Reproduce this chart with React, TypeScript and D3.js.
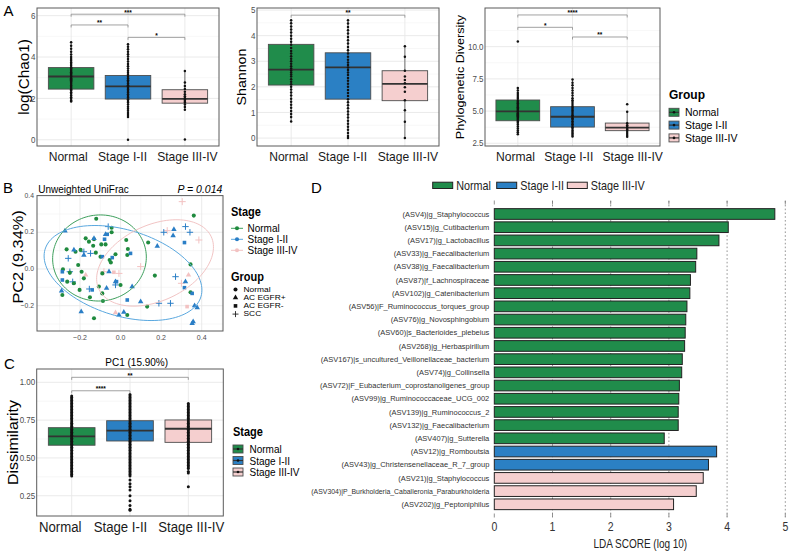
import React, { useEffect, useRef } from 'react';
import * as d3 from 'd3';

const STAGES = ['Normal', 'Stage I-II', 'Stage III-IV'];
const GROUPS = ['Normal', 'AC EGFR+', 'AC EGFR-', 'SCC'];
const BOX_FILL = ['#208c4b', '#2b80c4', '#f5cfcf'];
const PT_FILL = ['#1f8a3e', '#2a7ec6', '#f3c2c2'];
const ELL_STROKE = ['#3d9f5c', '#5aa8df', '#f2c4c4'];

// ---------------- Panel A ----------------
// box stats per stage: [lower whisker, Q1, median, Q3, upper whisker]
const chao1Box = [
  [1.85, 2.45, 3.06, 3.49, 4.7],
  [1.1, 1.97, 2.58, 3.11, 4.62],
  [1.45, 1.77, 1.98, 2.42, 3.32],
];
const chao1Pts = [
  [4.72, 4.55, 4.4, 4.25, 4.12, 4.0, 3.9, 3.82, 3.74, 3.66, 3.58, 3.5, 3.44, 3.38, 3.32, 3.26, 3.2, 3.14, 3.08, 3.03, 2.98, 2.93, 2.88, 2.82, 2.76, 2.7, 2.63, 2.56, 2.5, 2.44, 2.38, 2.3, 2.22, 2.14, 2.06, 1.98, 1.9, 1.85],
  [4.62, 4.5, 4.38, 4.26, 4.14, 4.02, 3.9, 3.78, 3.66, 3.55, 3.44, 3.34, 3.24, 3.14, 3.05, 2.96, 2.88, 2.8, 2.72, 2.64, 2.57, 2.5, 2.43, 2.36, 2.28, 2.2, 2.12, 2.04, 1.96, 1.88, 1.8, 1.7, 1.6, 1.5, 1.4, 1.3, 1.2, 1.1, 0.0],
  [3.32, 2.77, 2.6, 2.45, 2.32, 2.2, 2.1, 2.02, 1.95, 1.88, 1.8, 1.7, 1.58, 1.45, 0.02],
];
const chao1Ticks = [0, 2, 4, 6];
const chao1Minor = [1, 3, 5];
const chao1Sig = [
  { a: 0, b: 2, y: 6.07, label: '***' },
  { a: 0, b: 1, y: 5.55, label: '**' },
  { a: 1, b: 2, y: 4.95, label: '*' },
];

const shannonBox = [
  [0.65, 2.07, 2.67, 3.66, 4.6],
  [0.0, 1.52, 2.76, 3.33, 4.6],
  [0.0, 1.46, 2.12, 2.63, 3.59],
];
const shannonPts = [
  [4.6, 4.48, 4.36, 4.24, 4.12, 4.0, 3.88, 3.76, 3.64, 3.52, 3.4, 3.3, 3.2, 3.1, 3.0, 2.9, 2.8, 2.72, 2.64, 2.56, 2.48, 2.4, 2.3, 2.2, 2.1, 2.0, 1.9, 1.78, 1.66, 1.54, 1.42, 1.3, 1.18, 1.06, 0.94, 0.82, 0.65],
  [4.6, 4.47, 4.34, 4.21, 4.08, 3.95, 3.82, 3.69, 3.56, 3.43, 3.3, 3.18, 3.06, 2.95, 2.85, 2.76, 2.66, 2.56, 2.46, 2.35, 2.24, 2.12, 2.0, 1.88, 1.76, 1.64, 1.52, 1.4, 1.28, 1.16, 1.04, 0.92, 0.8, 0.68, 0.56, 0.44, 0.32, 0.2, 0.08, 0.0],
  [3.59, 3.18, 2.63, 2.4, 2.27, 2.14, 1.98, 1.81, 1.48, 1.09, 0.64, 0.0],
];
const shannonTicks = [0, 1, 2, 3, 4, 5];
const shannonMinor = [0.5, 1.5, 2.5, 3.5, 4.5];
const shannonSig = [{ a: 0, b: 2, y: 4.8, label: '**' }];

const pdBox = [
  [3.2, 4.25, 4.98, 5.86, 6.8],
  [3.02, 3.76, 4.56, 5.34, 7.45],
  [3.0, 3.48, 3.71, 4.07, 4.95],
];
const pdPts = [
  [10.4, 6.8, 6.6, 6.4, 6.25, 6.1, 5.95, 5.8, 5.7, 5.6, 5.5, 5.4, 5.3, 5.2, 5.1, 5.0, 4.92, 4.84, 4.76, 4.68, 4.6, 4.5, 4.4, 4.3, 4.2, 4.1, 3.95, 3.8, 3.65, 3.5, 3.35, 3.2],
  [7.45, 7.2, 7.0, 6.8, 6.6, 6.4, 6.2, 6.0, 5.85, 5.7, 5.55, 5.4, 5.28, 5.16, 5.04, 4.92, 4.8, 4.68, 4.56, 4.45, 4.34, 4.22, 4.1, 3.98, 3.86, 3.74, 3.62, 3.5, 3.38, 3.26, 3.14, 3.02],
  [5.53, 4.95, 4.05, 3.9, 3.78, 3.68, 3.58, 3.45, 3.3, 3.15, 3.0],
];
const pdTicks = [2.5, 5.0, 7.5, 10.0];
const pdMinor = [3.75, 6.25, 8.75, 11.25];
const pdSig = [
  { a: 0, b: 2, y: 12.46, label: '****' },
  { a: 0, b: 1, y: 11.5, label: '*' },
  { a: 1, b: 2, y: 10.75, label: '**' },
];

// ---------------- Panel B (PCoA) ----------------
// [PC1, PC2]
const bNormalCircle = [
  [-0.12, 0.274], [-0.044, 0.225], [-0.044, 0.2], [-0.172, 0.167], [-0.131, 0.162], [-0.156, 0.149],
  [-0.135, 0.127], [-0.095, 0.134], [-0.074, 0.134], [-0.266, 0.107], [-0.222, 0.094], [-0.197, 0.104],
  [-0.122, 0.089], [-0.099, 0.067], [-0.054, 0.049], [-0.048, 0.035], [-0.025, 0.08], [0.028, 0.158],
  [0.036, 0.109], [0.033, 0.076], [0.136, 0.144], [-0.284, -0.002], [-0.25, -0.02], [-0.209, 0.022],
  [-0.192, -0.015], [-0.263, -0.069], [-0.23, -0.078], [-0.202, -0.114], [-0.181, -0.051], [-0.107, -0.096],
  [-0.09, -0.133], [-0.151, -0.154], [-0.087, -0.174], [0.0, -0.087], [0.169, -0.036], [-0.287, -0.142],
  [-0.131, -0.269], [0.033, -0.251], [0.131, -0.205], [0.345, 0.025], [0.361, 0.291], [-0.09, -0.024],
  [0.345, -0.127],
];
const bStage12Triangle = [
  [-0.274, 0.207], [-0.23, 0.104], [-0.291, -0.12], [-0.181, 0.076], [-0.131, 0.167], [-0.074, 0.189],
  [-0.057, -0.015], [-0.025, -0.069], [0.057, -0.096], [0.099, -0.178], [0.181, 0.125], [0.263, 0.216],
  [0.259, 0.182], [0.32, -0.069], [0.365, -0.2], [0.378, -0.211], [0.358, -0.287], [0.353, -0.296],
  [-0.008, -0.251], [0.016, -0.236], [-0.194, -0.233], [-0.069, -0.105],
];
const bStage12Square = [
  [-0.066, 0.189], [-0.079, 0.162], [-0.09, 0.067], [-0.041, 0.062], [0.049, 0.085], [0.033, -0.169],
  [-0.287, -0.015], [-0.287, -0.06], [-0.02, -0.069], [0.315, 0.144], [0.315, -0.102], [0.353, -0.133],
  [-0.14, -0.114],
];
const bStage12Plus = [
  [-0.258, 0.058], [-0.181, 0.094], [-0.148, 0.085], [-0.061, 0.231], [-0.25, -0.015], [-0.236, -0.07],
  [-0.154, -0.109], [-0.025, -0.087], [0.189, -0.187], [0.213, 0.2], [0.271, -0.042], [0.32, 0.231],
  [0.342, 0.2], [0.246, -0.187],
];
const bStage34Plus = [
  [0.304, 0.367], [0.23, 0.209], [0.386, 0.158], [-0.082, -0.015], [-0.008, -0.024], [0.3, -0.078],
  [0.099, 0.013],
];
const bStage34Triangle = [[-0.172, -0.033], [-0.025, -0.238], [0.335, -0.033]];
const bStage34Square = [[-0.033, -0.018], [0.328, -0.205]];
// 95% ellipses: centre and two conjugate semi-axes (data units)
const ellCenter = [[-0.104, 0.06], [0.012, -0.022], [0.17, 0.033]];
const ellU = [[0.229, 0.035], [0.384, -0.13], [0.277, 0.143]];
const ellV = [[0.03, -0.232], [-0.062, -0.224], [0.079, -0.187]];
const bXTicks = [-0.2, 0.0, 0.2, 0.4];
const bYTicks = [-0.2, 0.0, 0.2, 0.4];
const bXMinor = [-0.3, -0.1, 0.1, 0.3, 0.5];
const bYMinor = [-0.3, -0.1, 0.1, 0.3];

// ---------------- Panel C ----------------
const cBox = [
  [0.38, 0.584, 0.643, 0.7, 0.91],
  [0.38, 0.612, 0.68, 0.746, 0.92],
  [0.43, 0.603, 0.693, 0.751, 0.86],
];
const cPts = [
  [0.91, 0.9, 0.89, 0.88, 0.87, 0.86, 0.85, 0.84, 0.83, 0.82, 0.81, 0.8, 0.79, 0.78, 0.77, 0.76, 0.75, 0.74, 0.73, 0.72, 0.71, 0.7, 0.69, 0.68, 0.67, 0.66, 0.65, 0.64, 0.63, 0.62, 0.61, 0.6, 0.59, 0.58, 0.57, 0.56, 0.55, 0.54, 0.53, 0.52, 0.51, 0.5, 0.49, 0.48, 0.47, 0.46, 0.45, 0.44, 0.43, 0.42, 0.41, 0.4, 0.39, 0.38],
  [0.92, 0.91, 0.9, 0.89, 0.88, 0.87, 0.86, 0.85, 0.84, 0.83, 0.82, 0.81, 0.8, 0.79, 0.78, 0.77, 0.76, 0.75, 0.74, 0.73, 0.72, 0.71, 0.7, 0.69, 0.68, 0.67, 0.66, 0.65, 0.64, 0.63, 0.62, 0.61, 0.6, 0.59, 0.58, 0.57, 0.56, 0.55, 0.54, 0.53, 0.52, 0.51, 0.5, 0.49, 0.48, 0.47, 0.46, 0.45, 0.44, 0.43, 0.42, 0.41, 0.4, 0.39, 0.38, 0.354, 0.33, 0.31, 0.288, 0.25, 0.217, 0.186, 0.16, 0.154],
  [0.86, 0.85, 0.84, 0.83, 0.82, 0.81, 0.8, 0.79, 0.78, 0.77, 0.76, 0.75, 0.74, 0.73, 0.72, 0.71, 0.7, 0.69, 0.68, 0.67, 0.66, 0.65, 0.64, 0.63, 0.62, 0.61, 0.6, 0.59, 0.58, 0.57, 0.56, 0.55, 0.54, 0.53, 0.52, 0.51, 0.5, 0.49, 0.48, 0.47, 0.46, 0.45, 0.44, 0.43, 0.41, 0.4, 0.31],
];
const cTicks = [0.25, 0.5, 0.75, 1.0];
const cMinor = [0.375, 0.625, 0.875];
const cSig = [
  { a: 0, b: 2, y: 1.033, label: '**' },
  { a: 0, b: 1, y: 0.944, label: '****' },
];

// ---------------- Panel D (LEfSe) ----------------
const ldaTaxa = [
  '(ASV4)|g_Staphylococcus', '(ASV15)|g_Cutibacterium', '(ASV17)|g_Lactobacillus', '(ASV33)|g_Faecalibacterium',
  '(ASV38)|g_Faecalibacterium', '(ASV87)|f_Lachnospiraceae', '(ASV102)|g_Catenibacterium',
  '(ASV56)|F_Ruminococcus_torques_group', '(ASV76)|g_Novosphingobium', '(ASV60)|s_Bacterioides_plebeius',
  '(ASV268)|g_Herbaspirillum', '(ASV167)|s_uncultured_Veillonellaceae_bacterium', '(ASV74)|g_Collinsella',
  '(ASV72)|F_Eubacterium_coprostanoligenes_group', '(ASV99)|g_Ruminococcaceae_UCG_002', '(ASV139)|g_Ruminococcus_2',
  '(ASV132)|g_Faecalibacterium', '(ASV407)|g_Sutterella', '(ASV12)|g_Romboutsia', '(ASV43)|g_Christensenellaceae_R_7_group',
  '(ASV21)|g_Staphylococcus', '(ASV304)|P_Burkholderia_Caballeronia_Paraburkholderia', '(ASV202)|g_Peptoniphilus',
];
const ldaScore = [4.82, 4.02, 3.86, 3.48, 3.46, 3.37, 3.36, 3.31, 3.29, 3.28, 3.27, 3.23, 3.22, 3.18, 3.17, 3.16, 3.16, 2.92, 3.82, 3.68, 3.59, 3.47, 3.08];
const ldaStage = [0, 0, 0, 0, 0, 0, 0, 0, 0, 0, 0, 0, 0, 0, 0, 0, 0, 0, 1, 1, 2, 2, 2];
const ldaTicks = [0, 1, 2, 3, 4, 5];

const FONT = "'Liberation Sans', Arial, Helvetica, sans-serif";

function txt(g: any, x: number, y: number, s: string, o: any = {}) {
  const sx = o.sx ?? 1;
  const sy = o.sy ?? 1.1;
  return g
    .append('text')
    .attr('transform', `translate(${x},${y}) scale(${sx},${sy})${o.rot ? ` rotate(${o.rot})` : ''}`)
    .attr('text-anchor', o.anchor ?? 'start')
    .attr('dominant-baseline', o.baseline ?? 'central')
    .attr('font-family', FONT)
    .attr('font-size', o.size ?? 10)
    .attr('font-weight', o.weight ?? 'normal')
    .attr('font-style', o.italic ? 'italic' : 'normal')
    .attr('fill', o.fill ?? '#000')
    .text(s);
}

function ln(g: any, x1: number, y1: number, x2: number, y2: number, stroke: string, w: number, dash?: string) {
  const l = g.append('line').attr('x1', x1).attr('y1', y1).attr('x2', x2).attr('y2', y2)
    .attr('stroke', stroke).attr('stroke-width', w);
  if (dash) l.attr('stroke-dasharray', dash);
  return l;
}

function boxPanel(svg: any, p: any) {
  const g = svg.append('g');
  const x = d3.scalePoint<string>().domain(STAGES).range([p.left, p.right]).padding(0.6);
  const y = d3.scaleLinear().domain(p.domain).range([p.bottom, p.top]);
  g.append('rect').attr('x', p.left).attr('y', p.top).attr('width', p.right - p.left)
    .attr('height', p.bottom - p.top).attr('fill', '#fff');
  p.minor.forEach((v: number) => ln(g, p.left, y(v), p.right, y(v), '#f2f2f2', 0.6));
  p.ticks.forEach((v: number) => ln(g, p.left, y(v), p.right, y(v), '#e8e8e8', 0.9));
  STAGES.forEach((s) => ln(g, x(s)!, p.top, x(s)!, p.bottom, '#e8e8e8', 0.9));
  const bw = x.step() * 0.8;
  p.boxes.forEach((b: number[], i: number) => {
    const cx = x(STAGES[i])!;
    ln(g, cx, y(b[0]), cx, y(b[1]), '#4d4d4d', 0.8);
    ln(g, cx, y(b[3]), cx, y(b[4]), '#4d4d4d', 0.8);
    g.append('rect').attr('x', cx - bw / 2).attr('y', y(b[3])).attr('width', bw)
      .attr('height', y(b[1]) - y(b[3])).attr('fill', BOX_FILL[i]).attr('stroke', '#4d4d4d').attr('stroke-width', 0.9);
    ln(g, cx - bw / 2, y(b[2]), cx + bw / 2, y(b[2]), '#333', 1.8);
  });
  p.pts.forEach((arr: number[], i: number) => {
    arr.forEach((v) => {
      g.append('circle').attr('cx', x(STAGES[i])).attr('cy', y(v)).attr('r', p.ptR ?? 1.25).attr('fill', '#111');
    });
  });
  g.append('rect').attr('x', p.left).attr('y', p.top).attr('width', p.right - p.left)
    .attr('height', p.bottom - p.top).attr('fill', 'none').attr('stroke', '#5a5a5a').attr('stroke-width', 1);
  p.ticks.forEach((v: number) => {
    txt(g, p.left - 1.5, y(v), p.fmt(v), { size: p.tickSize, anchor: 'end', fill: '#4d4d4d' });
  });
  STAGES.forEach((s, i) =>
    txt(g, x(s)! + p.xLabelShift[i], p.xLabelY, s, { size: p.xLabelSize, anchor: 'middle', fill: '#1a1a1a' }),
  );
  txt(g, p.yTitleX, (p.top + p.bottom) / 2, p.yTitle, { size: p.yTitleSize, anchor: 'middle', rot: -90 });
  p.sig.forEach((s: any) => {
    const x1 = x(STAGES[s.a])!;
    const x2 = x(STAGES[s.b])!;
    const yy = y(s.y);
    g.append('path').attr('d', `M${x1},${yy + 2.5}V${yy}H${x2}V${yy + 2.5}`)
      .attr('fill', 'none').attr('stroke', '#8a8a8a').attr('stroke-width', 0.8);
    txt(g, (x1 + x2) / 2, yy + 0.3, s.label, { size: 6.5, anchor: 'middle', weight: 'bold', baseline: 'alphabetic', sy: 1 });
  });
  return { x, y };
}

function boxKey(g: any, cx: number, cy: number, i: number) {
  g.append('rect').attr('x', cx - 5).attr('y', cy - 4).attr('width', 10).attr('height', 8)
    .attr('fill', BOX_FILL[i]).attr('stroke', '#4d4d4d').attr('stroke-width', 0.9);
  ln(g, cx - 5, cy, cx + 5, cy, '#333', 1.2);
  g.append('circle').attr('cx', cx).attr('cy', cy).attr('r', 1.3).attr('fill', '#111');
}

function plusPath(s: number) {
  return `M${-s},0H${s}M0,${-s}V${s}`;
}

function draw(svg: any) {
  // panel letters
  txt(svg, 3.5, 10, 'A', { size: 15, sy: 1 });
  txt(svg, 3, 187, 'B', { size: 15, sy: 1 });
  txt(svg, 4, 363, 'C', { size: 15, sy: 1 });
  txt(svg, 311, 187, 'D', { size: 15, sy: 1 });

  // ---------- A ----------
  const common = { top: 8, bottom: 146, xLabelY: 156.7, xLabelSize: 12.1, tickSize: 8 };
  boxPanel(svg, {
    ...common, left: 37, right: 219, domain: [-0.3, 6.37], ticks: chao1Ticks, minor: chao1Minor,
    fmt: (v: number) => d3.format('d')(v), boxes: chao1Box, pts: chao1Pts, sig: chao1Sig,
    yTitle: 'log(Chao1)', yTitleX: 24, yTitleSize: 13.9, xLabelShift: [-3, -5.5, 2.5],
  });
  boxPanel(svg, {
    ...common, left: 257, right: 439, domain: [-0.31, 5.08], ticks: shannonTicks, minor: shannonMinor,
    fmt: (v: number) => d3.format('d')(v), boxes: shannonBox, pts: shannonPts, sig: shannonSig,
    yTitle: 'Shannon', yTitleX: 242, yTitleSize: 12.9, xLabelShift: [-2.5, -5.5, 3],
  });
  boxPanel(svg, {
    ...common, left: 485, right: 660, domain: [2.29, 13.0], ticks: pdTicks, minor: pdMinor,
    fmt: (v: number) => d3.format('.1f')(v), boxes: pdBox, pts: pdPts, sig: pdSig,
    yTitle: 'Phylogenetic Diversity', yTitleX: 460.5, yTitleSize: 11.5, xLabelShift: [-2.3, -3.7, 5.5],
  });
  // A legend
  txt(svg, 669, 95, 'Group', { size: 12, weight: 'bold' });
  STAGES.forEach((s, i) => {
    const cy = 112.3 + i * 12.8;
    boxKey(svg, 674, cy, i);
    txt(svg, 685, cy, s, { size: 10.5 });
  });

  // ---------- B ----------
  const gB = svg.append('g');
  const bL = 37, bR = 223, bT = 195.6, bB = 331;
  const bx = d3.scaleLinear().domain([-0.412, 0.505]).range([bL, bR]);
  const by = d3.scaleLinear().domain([-0.338, 0.4]).range([bB, bT]);
  gB.append('rect').attr('x', bL).attr('y', bT).attr('width', bR - bL).attr('height', bB - bT).attr('fill', '#fff');
  bXMinor.forEach((v) => ln(gB, bx(v), bT, bx(v), bB, '#f2f2f2', 0.6));
  bYMinor.forEach((v) => ln(gB, bL, by(v), bR, by(v), '#f2f2f2', 0.6));
  bXTicks.forEach((v) => ln(gB, bx(v), bT, bx(v), bB, '#e8e8e8', 0.9));
  bYTicks.forEach((v) => ln(gB, bL, by(v), bR, by(v), '#e8e8e8', 0.9));

  const symCircle = d3.symbol().type(d3.symbolCircle).size(13)();
  const symTri = d3.symbol().type(d3.symbolTriangle).size(13)();
  const symSq = d3.symbol().type(d3.symbolSquare).size(13)();
  const drawSym = (pts: number[][], path: string, stage: number, isPlus = false) => {
    pts.forEach((p) => {
      const e = gB.append('path').attr('d', path).attr('transform', `translate(${bx(p[0])},${by(p[1])})`);
      if (isPlus) e.attr('fill', 'none').attr('stroke', PT_FILL[stage]).attr('stroke-width', 1);
      else e.attr('fill', PT_FILL[stage]);
    });
  };
  drawSym(bStage34Plus, plusPath(3.5), 2, true);
  drawSym(bStage34Triangle, symTri, 2);
  drawSym(bStage34Square, symSq, 2);
  drawSym(bStage12Plus, plusPath(3.2), 1, true);
  drawSym(bNormalCircle, symCircle, 0);
  drawSym(bStage12Triangle, symTri, 1);
  drawSym(bStage12Square, symSq, 1);

  STAGES.forEach((_, i) => {
    const angles = d3.range(0, 2 * Math.PI, Math.PI / 60);
    const pathGen = d3.line<number>()
      .x((t) => bx(ellCenter[i][0] + ellU[i][0] * Math.cos(t) + ellV[i][0] * Math.sin(t)))
      .y((t) => by(ellCenter[i][1] + ellU[i][1] * Math.cos(t) + ellV[i][1] * Math.sin(t)))
      .curve(d3.curveLinearClosed);
    gB.append('path').attr('d', pathGen(angles)).attr('fill', 'none')
      .attr('stroke', ELL_STROKE[i]).attr('stroke-width', 1);
  });
  gB.append('rect').attr('x', bL).attr('y', bT).attr('width', bR - bL).attr('height', bB - bT)
    .attr('fill', 'none').attr('stroke', '#5a5a5a').attr('stroke-width', 1);
  bXTicks.forEach((v) => txt(gB, bx(v), 337.5, d3.format('.1f')(v), { size: 7, anchor: 'middle', fill: '#4d4d4d' }));
  bYTicks.forEach((v) => txt(gB, 34, by(v), d3.format('.1f')(v), { size: 6.8, anchor: 'end', fill: '#4d4d4d' }));
  txt(gB, 38.3, 188.5, 'Unweighted UniFrac', { size: 10 });
  txt(gB, 222.3, 188.5, 'P = 0.014', { size: 10.5, anchor: 'end', italic: true });
  txt(gB, 17.5, 257, 'PC2 (9.34%)', { size: 14.8, anchor: 'middle', rot: -90 });
  // B legend
  txt(gB, 231, 212, 'Stage', { size: 11, weight: 'bold' });
  STAGES.forEach((s, i) => {
    const cy = 228.3 + i * 11;
    ln(gB, 231, cy, 243, cy, ELL_STROKE[i], 1);
    gB.append('path').attr('d', symCircle).attr('transform', `translate(237,${cy})`).attr('fill', PT_FILL[i]);
    txt(gB, 247.5, cy, s, { size: 10 });
  });
  txt(gB, 231, 276.7, 'Group', { size: 11, weight: 'bold' });
  const groupSyms = [symCircle, symTri, symSq, plusPath(3)];
  GROUPS.forEach((s, i) => {
    const cy = 289.5 + i * 8.2;
    const e = gB.append('path').attr('d', groupSyms[i]).attr('transform', `translate(235.5,${cy})`);
    if (i === 3) e.attr('fill', 'none').attr('stroke', '#222').attr('stroke-width', 0.9);
    else e.attr('fill', '#111');
    txt(gB, 243.5, cy, s, { size: 8.4, sy: 0.9 });
  });

  // ---------- C ----------
  txt(svg, 136.7, 362.3, 'PC1 (15.90%)', { size: 10, anchor: 'middle' });
  boxPanel(svg, {
    top: 369, bottom: 516, left: 36.7, right: 223.3, domain: [0.116, 1.088], ticks: cTicks, minor: cMinor,
    fmt: (v: number) => d3.format('.2f')(v), boxes: cBox, pts: cPts, sig: cSig, ptR: 1.5,
    xLabelY: 526.7, xLabelSize: 13.2, tickSize: 8, xLabelShift: [-11.5, -9.5, 3],
    yTitle: 'Dissimilarity', yTitleX: 12.5, yTitleSize: 14.5,
  });
  txt(svg, 233, 432, 'Stage', { size: 11, weight: 'bold' });
  STAGES.forEach((s, i) => {
    const cy = 449 + i * 11.5;
    boxKey(svg, 238, cy, i);
    txt(svg, 249.5, cy, s, { size: 10 });
  });

  // ---------- D ----------
  const gD = svg.append('g');
  const dx = d3.scaleLinear().domain([0, 5]).range([494.3, 785.3]);
  const dy = d3.scaleBand<string>().domain(ldaTaxa).range([207.4, 510.9]).paddingInner(0.19).paddingOuter(0.095);
  ldaTicks.forEach((v) => {
    if (v > 0) ln(gD, dx(v), 201, dx(v), 517, '#8a8a8a', 0.9, '1.6,2.2');
    ln(gD, dx(v), 200.5, dx(v), 204.5, '#777', 0.8);
    ln(gD, dx(v), 513.5, dx(v), 517.5, '#777', 0.8);
    txt(gD, dx(v), 526.7, String(v), { size: 10.5, anchor: 'middle', sy: 1.25, fill: '#333' });
  });
  ldaTaxa.forEach((t, i) => {
    const y0 = dy(t)!;
    gD.append('rect').attr('x', dx(0)).attr('y', y0).attr('width', dx(ldaScore[i]) - dx(0))
      .attr('height', dy.bandwidth()).attr('fill', BOX_FILL[ldaStage[i]])
      .attr('stroke', '#222').attr('stroke-width', 1);
    const el = txt(gD, 489.3, y0 + dy.bandwidth() / 2, t, { size: 7.5, anchor: 'end', fill: '#333', sy: 1.08 });
    const node = el.node() as SVGTextElement;
    const maxW = 178;
    if (node && node.getComputedTextLength && node.getComputedTextLength() > maxW) {
      el.attr('textLength', maxW).attr('lengthAdjust', 'spacingAndGlyphs');
    }
  });
  txt(gD, 640.3, 543.3, 'LDA SCORE (log 10)', { size: 10, anchor: 'middle', sy: 1.25, fill: '#222' });
  // D legend
  const legX = [432.7, 496.7, 567.3];
  STAGES.forEach((s, i) => {
    gD.append('rect').attr('x', legX[i]).attr('y', 182.2).attr('width', 20).attr('height', 6.3)
      .attr('fill', BOX_FILL[i]).attr('stroke', '#222').attr('stroke-width', 1);
    txt(gD, legX[i] + 23.5, 185.3, s, { size: 10.8, sy: 1.12, fill: '#222' });
  });
}

export default function App() {
  const ref = useRef<SVGSVGElement>(null);
  useEffect(() => {
    const svg = d3.select(ref.current);
    svg.selectAll('*').remove();
    draw(svg);
  }, []);
  return (
    <svg
      ref={ref}
      width={800}
      height={554}
      style={{ position: 'absolute', left: 0, top: 0, background: '#fff' }}
    />
  );
}
